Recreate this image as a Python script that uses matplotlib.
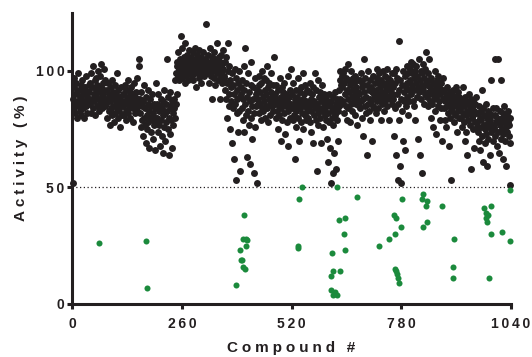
import numpy as np
import matplotlib
matplotlib.use("Agg")
from matplotlib import pyplot as plt
from matplotlib.ticker import FuncFormatter

# black points: activity (%) of inactive compounds, 40 compounds per row
black_rows = [
    [52, 88, 93, 84, 97, 90, 82, 86, 95, 91, 80, 87, 99, 85, 92, 83, 89, 94, 81, 88, 96, 86, 90, 84, 92, 80, 87, 93, 85, 98, 89, 82, 91, 86, 94, 88],
    [91, 86, 95, 82, 99, 88, 93, 84, 102, 90, 87, 96, 81, 92, 89, 97, 85, 94, 100, 88, 83, 91, 98, 86, 93, 103, 89, 84, 95, 90, 87, 101, 92, 85, 96, 88],
    [86, 92, 80, 88, 95, 83, 90, 77, 87, 93, 84, 89, 81, 96, 85, 91, 78, 88, 94, 82, 87, 90, 84, 99, 86, 80, 92, 88, 83, 76, 89, 85, 93, 81, 87, 90],
    [85, 90, 81, 94, 87, 83, 92, 79, 88, 86, 96, 82, 89, 84, 91, 80, 87, 93, 85, 88, 78, 90, 84, 95, 86, 82, 89, 87, 91, 83, 97, 85, 88, 105, 102, 86],
    [82, 88, 76, 91, 79, 85, 72, 87, 80, 94, 77, 84, 69, 89, 81, 75, 86, 78, 92, 83, 67, 80, 88, 74, 85, 79, 90, 71, 82, 77, 86, 66, 84, 80, 95, 78],
    [80, 86, 74, 90, 83, 77, 68, 85, 79, 88, 72, 84, 65, 81, 87, 76, 92, 82, 70, 86, 78, 105, 83, 75, 89, 64, 80, 85, 73, 91, 79, 84, 67, 87, 82, 77],
    [84, 88, 96, 80, 99, 86, 102, 90, 104, 98, 108, 101, 96, 105, 100, 115, 103, 97, 110, 102, 99, 106, 101, 95, 104, 112, 100, 98, 107, 103, 96, 105, 101, 109, 99, 104],
    [102, 106, 98, 104, 100, 108, 96, 103, 101, 110, 99, 105, 93, 102, 107, 100, 104, 97, 109, 101, 103, 99, 106, 95, 102, 104, 100, 108, 98, 103, 101, 105, 120, 99, 104, 102],
    [103, 99, 107, 101, 95, 110, 104, 98, 102, 106, 88, 100, 104, 97, 108, 102, 94, 105, 100, 103, 99, 112, 101, 96, 106, 102, 88, 104, 98, 107, 100, 103, 95, 109, 101, 97],
    [98, 104, 92, 88, 106, 95, 80, 100, 112, 90, 85, 102, 75, 96, 93, 87, 69, 99, 84, 94, 62, 90, 101, 86, 53, 97, 82, 92, 88, 74, 95, 83, 100, 57, 89, 93],
    [90, 84, 96, 79, 88, 102, 74, 92, 86, 110, 81, 95, 63, 89, 83, 99, 77, 91, 60, 87, 94, 80, 104, 85, 71, 93, 88, 56, 82, 97, 76, 90, 85, 52, 92, 86],
    [88, 94, 82, 98, 86, 91, 79, 95, 84, 100, 89, 83, 97, 87, 92, 80, 96, 85, 90, 102, 84, 93, 78, 88, 95, 86, 81, 91, 99, 85, 89, 94, 83, 87, 106, 90],
    [86, 90, 80, 94, 83, 88, 75, 92, 85, 81, 97, 87, 70, 89, 84, 93, 79, 86, 91, 82, 95, 88, 73, 85, 90, 78, 87, 98, 83, 68, 89, 84, 92, 80, 86, 101],
    [84, 90, 79, 95, 86, 81, 88, 62, 92, 83, 76, 89, 85, 97, 80, 87, 70, 91, 84, 78, 93, 86, 82, 99, 88, 75, 85, 90, 81, 94, 87, 79, 83, 92, 86, 80],
    [85, 91, 78, 95, 83, 88, 74, 90, 86, 69, 93, 81, 87, 99, 84, 79, 92, 57, 86, 82, 96, 77, 89, 84, 91, 80, 87, 69, 94, 83, 76, 88, 85, 90, 81, 86],
    [84, 79, 88, 71, 86, 82, 61, 90, 78, 85, 67, 87, 52, 83, 80, 56, 89, 77, 84, 65, 91, 81, 86, 58, 88, 79, 83, 70, 92, 85, 96, 88, 100, 94, 86, 98],
    [93, 87, 99, 82, 95, 90, 101, 85, 97, 79, 92, 88, 103, 84, 96, 91, 78, 94, 86, 100, 89, 83, 97, 92, 87, 95, 81, 98, 90, 86, 93, 88, 77, 96, 91, 85],
    [90, 96, 84, 99, 87, 93, 80, 95, 72, 88, 105, 91, 85, 97, 82, 89, 94, 64, 86, 100, 92, 83, 96, 88, 79, 93, 87, 70, 91, 98, 85, 90, 84, 95, 89, 82],
    [92, 97, 87, 101, 90, 84, 95, 99, 88, 93, 79, 96, 91, 86, 100, 89, 94, 83, 98, 90, 87, 95, 92, 101, 85, 97, 89, 93, 79, 96, 88, 91, 94, 86, 99, 90],
    [93, 88, 99, 72, 95, 84, 101, 64, 90, 97, 53, 86, 113, 92, 79, 59, 96, 88, 52, 94, 83, 100, 70, 91, 87, 98, 66, 93, 85, 102, 89, 95, 81, 99, 92, 87],
    [96, 101, 90, 104, 94, 99, 87, 103, 92, 97, 85, 100, 79, 95, 102, 89, 98, 71, 93, 105, 91, 96, 64, 100, 88, 94, 99, 56, 92, 103, 86, 97, 90, 101, 95, 108],
    [94, 89, 99, 85, 96, 91, 105, 87, 93, 80, 97, 90, 86, 95, 76, 92, 88, 100, 83, 94, 89, 73, 96, 91, 85, 98, 87, 93, 79, 90, 95, 84, 92, 70, 88, 97],
    [88, 84, 92, 79, 87, 90, 76, 85, 93, 82, 89, 68, 86, 91, 80, 88, 84, 53, 90, 83, 87, 92, 78, 86, 89, 81, 93, 85, 74, 88, 83, 91, 86, 80, 89, 84],
    [84, 80, 88, 76, 86, 82, 93, 78, 85, 70, 89, 81, 87, 74, 83, 64, 86, 79, 90, 82, 77, 85, 58, 88, 80, 84, 75, 87, 81, 67, 83, 86, 78, 89, 82, 76],
    [78, 82, 74, 85, 70, 80, 66, 83, 76, 79, 92, 72, 84, 61, 77, 81, 69, 75, 86, 73, 80, 59, 78, 83, 71, 76, 82, 64, 79, 74, 96, 81, 77, 70, 84, 75],
    [76, 81, 72, 105, 78, 84, 68, 80, 74, 105, 79, 65, 83, 77, 71, 96, 80, 75, 62, 82, 73, 78, 85, 70, 79, 76, 59, 81, 74, 78, 83, 72, 77, 69, 80, 51],
]
row_size = 40

# green points: hits below 50 %
green_x = [64, 174, 176, 389, 397, 399, 403, 405, 406, 408, 410, 411, 412, 414,
           536, 536, 538, 545, 613, 614, 617, 618, 619, 623, 628, 629, 632, 636,
           645, 646, 648, 676, 727, 752, 764, 765, 766, 768, 769, 771, 773, 775,
           779, 783, 830, 833, 833, 838, 841, 841, 878, 902, 903, 905, 977, 981,
           981, 984, 985, 989, 994, 994, 1020, 1038, 1039]
green_y = [26, 27, 7, 8, 23, 19, 19, 28, 16, 38, 15, 25, 28, 27.5,
           25, 24, 45, 50, 6, 12, 22, 14, 4, 5, 50, 4, 36, 14,
           30, 37, 23, 46, 25, 28, 38, 30, 15, 37, 14, 13, 11, 9,
           33, 45, 45, 47, 33, 42, 44, 35, 42, 11, 16, 28, 41, 39,
           37, 35, 38, 11, 42, 30, 31, 27, 49]

black_x = []
black_y = []
for i, row in enumerate(black_rows):
    n = len(row)
    black_x.extend(i * row_size + (np.arange(n) + 0.5) * row_size / n)
    black_y.extend(row)

ink = '#231f20'
plt.rcParams['font.family'] = ['Liberation Sans', 'DejaVu Sans']


def spaced(s, sep='\u2009'):
    return ''.join(c if c != ' ' else sep for c in sep.join(list(s)))


fig = plt.figure(figsize=(5.32, 3.57), dpi=100)
ax = fig.add_axes([0.136, 0.1485, 0.824, 0.816])

ax.axhline(50, color=ink, lw=0.9, ls=(0, (1, 2)), zorder=1)
ax.scatter(black_x, black_y, s=25, color=ink, linewidths=0, zorder=2, clip_on=False)
ax.scatter(green_x, green_y, s=19, color='#1b8a3c', linewidths=0, zorder=3, clip_on=False)

ax.set_xlim(0, 1040)
ax.set_ylim(0, 125)
ax.set_xticks([0, 260, 520, 780, 1040])
ax.set_yticks([0, 50, 100])
fmt = FuncFormatter(lambda v, p: spaced(str(int(v))))
ax.xaxis.set_major_formatter(fmt)
ax.yaxis.set_major_formatter(fmt)

for side in ['top', 'right']:
    ax.spines[side].set_visible(False)
for side in ['left', 'bottom']:
    ax.spines[side].set_linewidth(2.2)
    ax.spines[side].set_color(ink)
ax.tick_params(width=2.2, length=3.5, color=ink, labelsize=10, labelcolor=ink)
ax.tick_params(axis='x', pad=6)
ax.tick_params(axis='y', pad=2)
for lab in ax.get_xticklabels() + ax.get_yticklabels():
    lab.set_fontweight('bold')

ax.set_xlabel(spaced('Compound #', '\u2005'), fontsize=11, fontweight='bold', color=ink, labelpad=7)
ax.set_ylabel(spaced('Activity (%)', '\u2005'), fontsize=11, fontweight='bold', color=ink, labelpad=6)

fig.savefig('out.png', dpi=100)
